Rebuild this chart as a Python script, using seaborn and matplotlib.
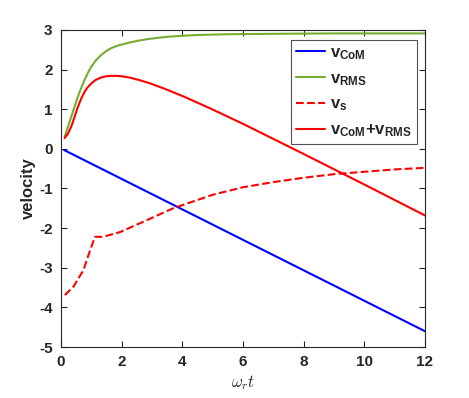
import numpy as np
import pandas as pd
import seaborn as sns
import matplotlib.pyplot as plt

# values
t_com = [0.1, 12]
v_com = [-0.03, -4.6]

t_rms = [0.12, 0.23, 0.34, 0.45, 0.56, 0.67, 0.78, 0.89, 1.0, 1.15, 1.33, 1.5, 1.66, 1.9, 2.21, 2.5, 2.8, 3.2, 3.6, 4.0, 4.5, 5.5, 7, 9, 12]
v_rms = [0.30, 0.55, 0.81, 1.07, 1.32, 1.54, 1.74, 1.92, 2.07, 2.23, 2.37, 2.47, 2.54, 2.61, 2.67, 2.72, 2.76, 2.80, 2.83, 2.85, 2.87, 2.89, 2.90, 2.91, 2.91]

t_sum = [0.12, 0.23, 0.34, 0.45, 0.56, 0.67, 0.78, 0.89, 1.0, 1.15, 1.33, 1.5, 1.66, 1.84, 2.0, 2.3, 2.6, 2.94, 3.5, 4.04, 4.92, 6, 8, 10, 12]
v_sum = [0.27, 0.38, 0.56, 0.81, 1.06, 1.27, 1.44, 1.56, 1.65, 1.74, 1.80, 1.83, 1.84, 1.84, 1.83, 1.79, 1.73, 1.65, 1.49, 1.32, 1.02, 0.63, -0.13, -0.90, -1.68]

t_s = [0.13, 0.41, 0.74, 0.96, 1.12, 1.39, 1.95, 2.83, 3.7, 4.5, 5.0, 6.0, 7.0, 8.0, 9.0, 10.0, 11.0, 12.0]
v_s = [-3.69, -3.48, -3.06, -2.56, -2.22, -2.22, -2.10, -1.80, -1.50, -1.29, -1.16, -0.97, -0.84, -0.73, -0.64, -0.58, -0.52, -0.48]

x_ticks = [0, 2, 4, 6, 8, 10, 12]
y_ticks = [-5, -4, -3, -2, -1, 0, 1, 2, 3]

sns.set_style("ticks")
plt.rcParams['font.family'] = ['Liberation Sans', 'DejaVu Sans']
plt.rcParams['mathtext.fontset'] = 'custom'
plt.rcParams['mathtext.rm'] = 'Liberation Sans'
plt.rcParams['mathtext.bf'] = 'Liberation Sans:bold'
plt.rcParams['mathtext.it'] = 'Liberation Sans:italic'

fig = plt.figure(figsize=(4.69, 3.98), dpi=100)
ax = fig.add_axes([0.130, 0.128, 0.776, 0.797])

lw = 1.5
sns.lineplot(x=t_com, y=v_com, ax=ax, color='#0000ff', lw=lw, label=r'$\mathbf{v_{CoM}}$')
sns.lineplot(x=t_rms, y=v_rms, ax=ax, color='#77ac30', lw=lw, label=r'$\mathbf{v_{RMS}}$')
sns.lineplot(x=t_s, y=v_s, ax=ax, color='#ff0000', lw=lw, ls='--', dashes=(4, 2.5), label=r'$\mathbf{v_s}$')
sns.lineplot(x=t_sum, y=v_sum, ax=ax, color='#ff0000', lw=lw, label=r'$\mathbf{v_{CoM}{+}v_{RMS}}$')

ax.set_xlim(0, 12)
ax.set_ylim(-5, 3)
ax.set_xticks(x_ticks)
ax.set_yticks(y_ticks)
ax.set_xticklabels([str(v) for v in x_ticks], fontweight='bold', fontsize=11)
ax.set_yticklabels([str(v) for v in y_ticks], fontweight='bold', fontsize=11)
ax.tick_params(direction='in', top=True, right=True, length=4, width=0.8,
               colors='#262626', pad=6)
for s in ax.spines.values():
    s.set_visible(True)
    s.set_color('#262626')
    s.set_linewidth(0.8)

ax.set_ylabel('velocity', fontweight='bold', fontsize=12, color='#262626', labelpad=2)
ax.set_xlabel(r'$\omega_r t$', fontsize=12, color='#262626', labelpad=3,
              math_fontfamily='cm')

leg = ax.legend(loc='upper right', bbox_to_anchor=(0.978, 0.968), fontsize=12,
                frameon=True, fancybox=False, edgecolor='#262626',
                handlelength=1.75, handletextpad=0.3, labelspacing=0.55,
                borderpad=0.3, borderaxespad=0)
leg.get_frame().set_linewidth(0.8)

fig.savefig('out.png', dpi=100)
